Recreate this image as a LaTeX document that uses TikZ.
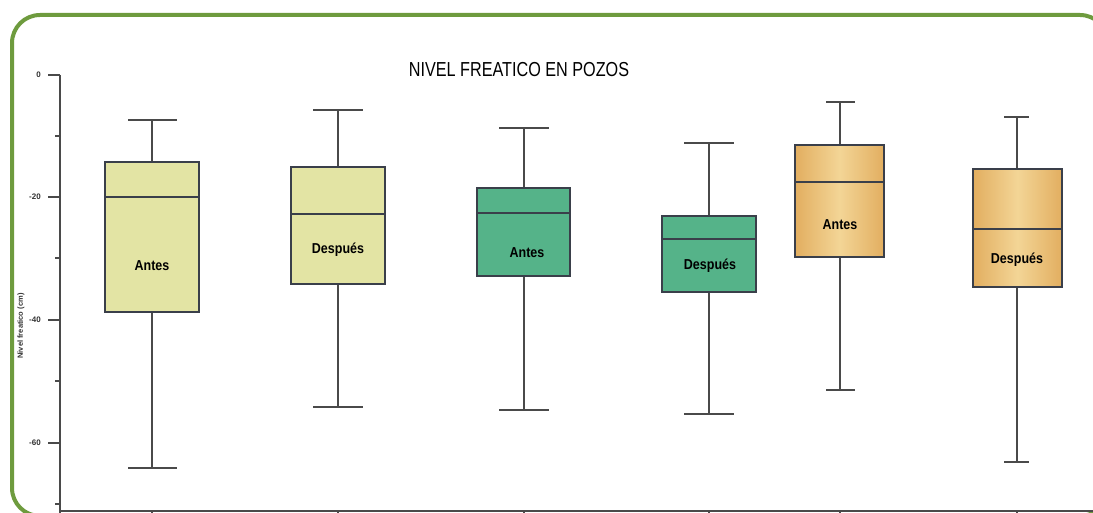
\documentclass[tikz,border=0pt]{standalone}
\usepackage{fontspec}
\setmainfont{Liberation Sans}
\usepackage{graphicx}
\definecolor{framegreen}{HTML}{6E9B3E}
\definecolor{boxline}{HTML}{3A3F4A}
\definecolor{whisk}{HTML}{4A4A4A}
\definecolor{yel}{HTML}{E3E4A4}
\definecolor{grn}{HTML}{55B389}
\definecolor{orA}{HTML}{E2AE60}
\definecolor{orB}{HTML}{F3D596}
\tikzset{
  frameline/.style={draw=framegreen, line width=4pt, rounded corners=28pt},
  boxrect/.style={draw=boxline, line width=1.5pt},
  medline/.style={draw=boxline, line width=1.5pt},
  whiskline/.style={draw=whisk, line width=1.2pt},
  axisline/.style={draw=whisk, line width=1.5pt},
  boxlabel/.style={font=\fontsize{12.5}{13}\selectfont\bfseries, text=black, inner sep=0pt},
  ticklabel/.style={font=\fontsize{8}{8}\selectfont\bfseries, text=black!80, anchor=east, inner sep=0pt},
}
\begin{document}
\begin{tikzpicture}[x=1pt,y=-1pt]
\useasboundingbox (0,0) rectangle (1093,513);
\clip (0,0) rectangle (1093,513);
\fill[white] (0,0) rectangle (1093,513);
% frame
\draw[frameline] (12,15) rectangle (1108,516);
% title
\node[inner sep=0pt] (title) at (519,70) {\scalebox{1}[1.25]{\fontsize{16.2}{17}\selectfont NIVEL FREATICO EN POZOS}};
% y label
\node[rotate=90, inner sep=0pt, font=\fontsize{7.5}{8}\selectfont\bfseries, text=black!80] (ylab) at (21,326) {Nivel freatico (cm)};
% axes
\draw[axisline] (60,75) -- (60,513);
\draw[axisline] (60,511) -- (1093,511);
\foreach \yy/\lab in {75/0,197/-20,320/-40,443/-60}{
  \draw[axisline, line width=1.2pt] (48,\yy) -- (60,\yy);
  \node[ticklabel] at (41,\yy) {\lab};
}
\foreach \yy in {136,258,381,504}{
  \draw[axisline, line width=1.2pt] (55,\yy) -- (60,\yy);
}
\foreach \xx in {152,338,524,709,840,1017}{
  \draw[axisline, line width=1.2pt] (\xx,511) -- (\xx,517);
}
% ---- box 1 Antes yellow
\draw[whiskline] (152,162) -- (152,120) (128,120) -- (177,120);
\draw[whiskline] (152,312) -- (152,468) (128,468) -- (177,468);
\draw[boxrect, fill=yel] (105,162) rectangle (199,312);
\draw[medline] (105,197) -- (199,197);
\node[boxlabel] (l1) at (152,266) {\scalebox{1}[1.15]{Antes}};
% ---- box 2 Despues yellow
\draw[whiskline] (338,167) -- (338,110) (313,110) -- (363,110);
\draw[whiskline] (338,284) -- (338,407) (313,407) -- (363,407);
\draw[boxrect, fill=yel] (291,167) rectangle (385,284);
\draw[medline] (291,214) -- (385,214);
\node[boxlabel] (l2) at (338,250) {\scalebox{1}[1.15]{Después}};
% ---- box 3 Antes green
\draw[whiskline] (524,188) -- (524,128) (499,128) -- (549,128);
\draw[whiskline] (524,276) -- (524,410) (499,410) -- (549,410);
\draw[boxrect, fill=grn] (477,188) rectangle (570,276);
\draw[medline] (477,213) -- (570,213);
\node[boxlabel] (l3) at (527,253) {\scalebox{1}[1.15]{Antes}};
% ---- box 4 Despues green
\draw[whiskline] (709,216) -- (709,143) (684,143) -- (734,143);
\draw[whiskline] (709,292) -- (709,414) (684,414) -- (734,414);
\draw[boxrect, fill=grn] (662,216) rectangle (756,292);
\draw[medline] (662,239) -- (756,239);
\node[boxlabel] (l4) at (710,266) {\scalebox{1}[1.15]{Después}};
% ---- box 5 Antes orange
\draw[whiskline] (840,145) -- (840,102) (826,102) -- (855,102);
\draw[whiskline] (840,257) -- (840,390) (826,390) -- (855,390);
\draw[boxrect, left color=orA, right color=orA, middle color=orB] (795,145) rectangle (884,257);
\draw[medline] (795,182) -- (884,182);
\node[boxlabel] (l5) at (840,225) {\scalebox{1}[1.15]{Antes}};
% ---- box 6 Despues orange
\draw[whiskline] (1017,169) -- (1017,117) (1004,117) -- (1029,117);
\draw[whiskline] (1017,287) -- (1017,462) (1004,462) -- (1029,462);
\draw[boxrect, left color=orA, right color=orA, middle color=orB] (973,169) rectangle (1062,287);
\draw[medline] (973,229) -- (1062,229);
\node[boxlabel] (l6) at (1017,260) {\scalebox{1}[1.15]{Después}};
\end{tikzpicture}
\end{document}
